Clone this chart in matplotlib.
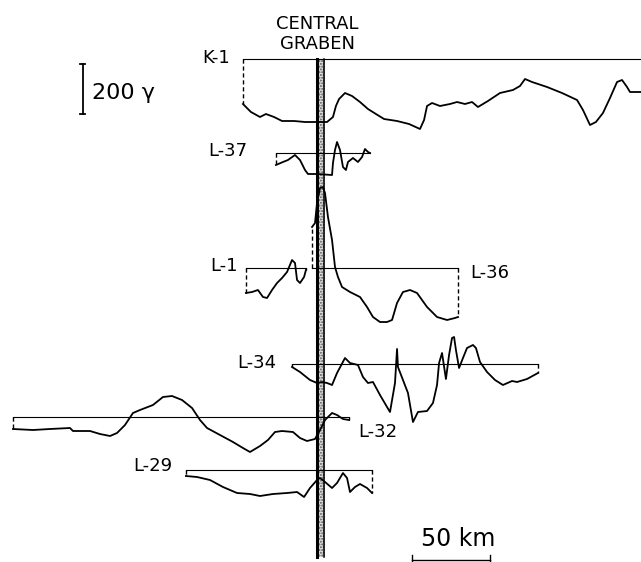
import matplotlib.pyplot as plt
from matplotlib.patches import Rectangle

# magnetic anomaly profiles across the Central Graben
# distance in km (from left margin), anomaly in gamma relative to profile baseline
k1_km = [155.5, 160.6, 166.4, 170.2, 175.4, 180.5, 188.2, 195.2, 202.2, 209.3, 213.1, 215.0,
         217.0, 220.8, 225.3, 230.4, 235.5, 240.6, 245.8, 254.1, 261.8, 268.8, 271.4, 273.3,
         276.5, 281.6, 288.0, 292.5, 297.6, 302.1, 305.9, 312.3, 320.0, 328.3, 332.8, 336.0,
         340.5, 350.1, 359.7, 369.3, 373.1, 377.6, 381.4, 385.9, 390.4, 394.9, 398.1, 401.3,
         403.2, 410.2]
k1_gamma = [-180, -212, -232, -220, -232, -248, -248, -252, -252, -252, -232, -188,
            -160, -136, -148, -172, -200, -220, -240, -248, -260, -280, -244, -188,
            -176, -188, -180, -172, -180, -172, -192, -168, -136, -124, -108, -80,
            -92, -112, -136, -164, -204, -264, -252, -216, -156, -92, -84, -112,
            -132, -132]

l37_km = [176.6, 181.1, 184.3, 188.8, 192.0, 195.2, 197.1, 202.9, 212.5, 213.1, 214.4,
          215.7, 217.6, 219.5, 221.4, 222.7, 225.9, 229.1, 231.7, 233.6, 235.5, 236.8]
l37_gamma = [-48, -36, -28, -8, -28, -68, -84, -84, -88, -40, 12,
             44, 12, -56, -68, -36, -20, -36, -16, 16, 4, 0]

l1_km = [157.4, 161.3, 165.1, 168.3, 170.9, 174.1, 177.3, 180.5, 183.7, 186.9, 188.8,
         190.1, 192.0, 194.6, 195.8]
l1_gamma = [-100, -96, -88, -116, -120, -88, -60, -40, -16, 32, 20,
            -48, -60, -36, -8]

l36_km = [199.7, 201.6, 202.9, 204.8, 206.7, 208.0, 209.9, 212.5, 214.4, 216.3, 218.9,
          224.0, 230.4, 234.9, 238.7, 243.2, 247.7, 250.9, 254.1, 257.9, 262.4, 266.9,
          273.3, 279.7, 286.1, 291.2, 293.1]
l36_gamma = [164, 180, 260, 320, 324, 300, 204, 112, 4, -36, -76,
             -96, -116, -156, -196, -216, -216, -208, -140, -96, -88, -100,
             -156, -196, -208, -200, -196]

l34_km = [186.9, 192.0, 198.4, 202.9, 206.1, 209.3, 212.5, 215.7, 220.8, 224.0, 229.1,
          232.3, 235.5, 238.7, 243.2, 247.7, 249.6, 252.8, 254.1, 254.7, 257.9, 261.1,
          264.3, 267.5, 273.3, 277.1, 279.7, 281.0, 282.9, 285.4, 287.4, 289.3, 290.6,
          291.8, 293.8, 296.3, 298.9, 302.7, 304.6, 307.2, 311.7, 316.8, 321.9, 327.7,
          330.9, 337.3, 344.3]
l34_gamma = [-12, -32, -64, -76, -72, -76, -84, -36, 24, 4, -4,
             -52, -76, -72, -124, -172, -192, -76, 60, -12, -64, -116,
             -232, -192, -188, -156, -84, 4, 44, -60, 36, 104, 108,
             56, -16, 24, 64, 76, 64, 8, -32, -64, -84, -68,
             -72, -60, -36]

l32_km = [8.3, 21.1, 32.0, 44.8, 46.7, 57.6, 64.0, 70.4, 74.9, 80.0, 85.1, 89.6, 97.9,
          104.3, 110.1, 116.5, 122.9, 128.0, 132.5, 140.8, 149.1, 155.5, 160.0, 166.4,
          171.5, 176.0, 180.5, 187.5, 192.0, 196.5, 201.6, 204.8, 208.0, 212.5, 215.7,
          219.5, 223.4]
l32_gamma = [-48, -52, -48, -44, -56, -56, -68, -76, -64, -32, 16, 28, 48,
             80, 84, 68, 36, -12, -44, -72, -100, -124, -140, -116,
             -92, -60, -56, -60, -84, -96, -88, -52, -12, 16, 8,
             -8, -12]

l29_km = [119.0, 126.1, 134.4, 142.7, 151.7, 160.0, 166.4, 174.7, 183.7, 190.1, 194.6,
          198.4, 202.9, 204.8, 208.0, 212.5, 215.7, 219.5, 222.1, 224.0, 227.2, 230.4,
          234.9, 238.1]
l29_gamma = [-24, -28, -40, -68, -92, -96, -104, -96, -92, -88, -108,
             -72, -40, -32, -48, -72, -52, -12, -32, -88, -68, -56,
             -72, -92]

# depth of each baseline below the top of the sheet (gamma units)
profiles = [
    (k1_km, k1_gamma, 236, 410.24),
    (l37_km, l37_gamma, 612, None),
    (l1_km, l1_gamma, 1072, None),
    (l36_km, l36_gamma, 1072, None),
    (l34_km, l34_gamma, 1456, None),
    (l32_km, l32_gamma, 1668, None),
    (l29_km, l29_gamma, 1880, None),
]

fig = plt.figure(figsize=(6.41, 5.62), dpi=100)
ax = fig.add_axes([0, 0, 1, 1])
ax.set_xlim(0, 410.24)
ax.set_ylim(-2248, 0)
ax.axis('off')

# central graben band
ax.add_patch(Rectangle((202.2, -2228), 5.6, 1992, facecolor='#e0e0e0',
                       edgecolor='#555555', hatch='......', lw=0, zorder=1))
ax.plot([202.6, 202.6], [-236, -2228], color='black', lw=2.2, zorder=2)
ax.plot([207.6, 207.6], [-236, -2228], color='black', lw=1.1, zorder=2)

dash = (0, (3, 2))
for km, g, depth, right in profiles:
    x_end = right if right is not None else km[-1]
    ax.plot([km[0], x_end], [-depth, -depth], color='black', lw=0.8, zorder=3)
    ax.plot(km, [v - depth for v in g], color='black', lw=1.3, zorder=4,
            solid_joinstyle='round')
    ax.plot([km[0], km[0]], [-depth, g[0] - depth], color='black', lw=1.0,
            ls=dash, zorder=3)
    if right is None:
        ax.plot([km[-1], km[-1]], [-depth, g[-1] - depth], color='black', lw=1.0,
                ls=dash, zorder=3)

fs = 13
ax.text(202.9, -96, 'CENTRAL', ha='center', va='center', fontsize=fs)
ax.text(202.9, -176, 'GRABEN', ha='center', va='center', fontsize=fs)
ax.text(129.3, -232, 'K-1', ha='left', va='center', fontsize=fs)
ax.text(133.1, -604, 'L-37', ha='left', va='center', fontsize=fs)
ax.text(134.4, -1064, 'L-1', ha='left', va='center', fontsize=fs)
ax.text(300.8, -1092, 'L-36', ha='left', va='center', fontsize=fs)
ax.text(151.7, -1452, 'L-34', ha='left', va='center', fontsize=fs)
ax.text(229.1, -1728, 'L-32', ha='left', va='center', fontsize=fs)
ax.text(85.1, -1864, 'L-29', ha='left', va='center', fontsize=fs)

# 200 gamma vertical scale
ax.plot([52.9, 52.9], [-256, -456], color='black', lw=1.3)
ax.plot([51.3, 54.5], [-256, -256], color='black', lw=1.3)
ax.plot([51.3, 54.5], [-456, -456], color='black', lw=1.3)
ax.text(58.9, -372, '200 γ', ha='left', va='center', fontsize=16)

# 50 km horizontal scale
ax.plot([263.7, 313.7], [-2240, -2240], color='black', lw=1.0)
ax.plot([263.7, 263.7], [-2220, -2248], color='black', lw=1.0)
ax.plot([313.7, 313.7], [-2220, -2248], color='black', lw=1.0)
ax.text(293.1, -2158, '50 km', ha='center', va='center', fontsize=17)

fig.savefig('out.png', dpi=100, facecolor='white')
